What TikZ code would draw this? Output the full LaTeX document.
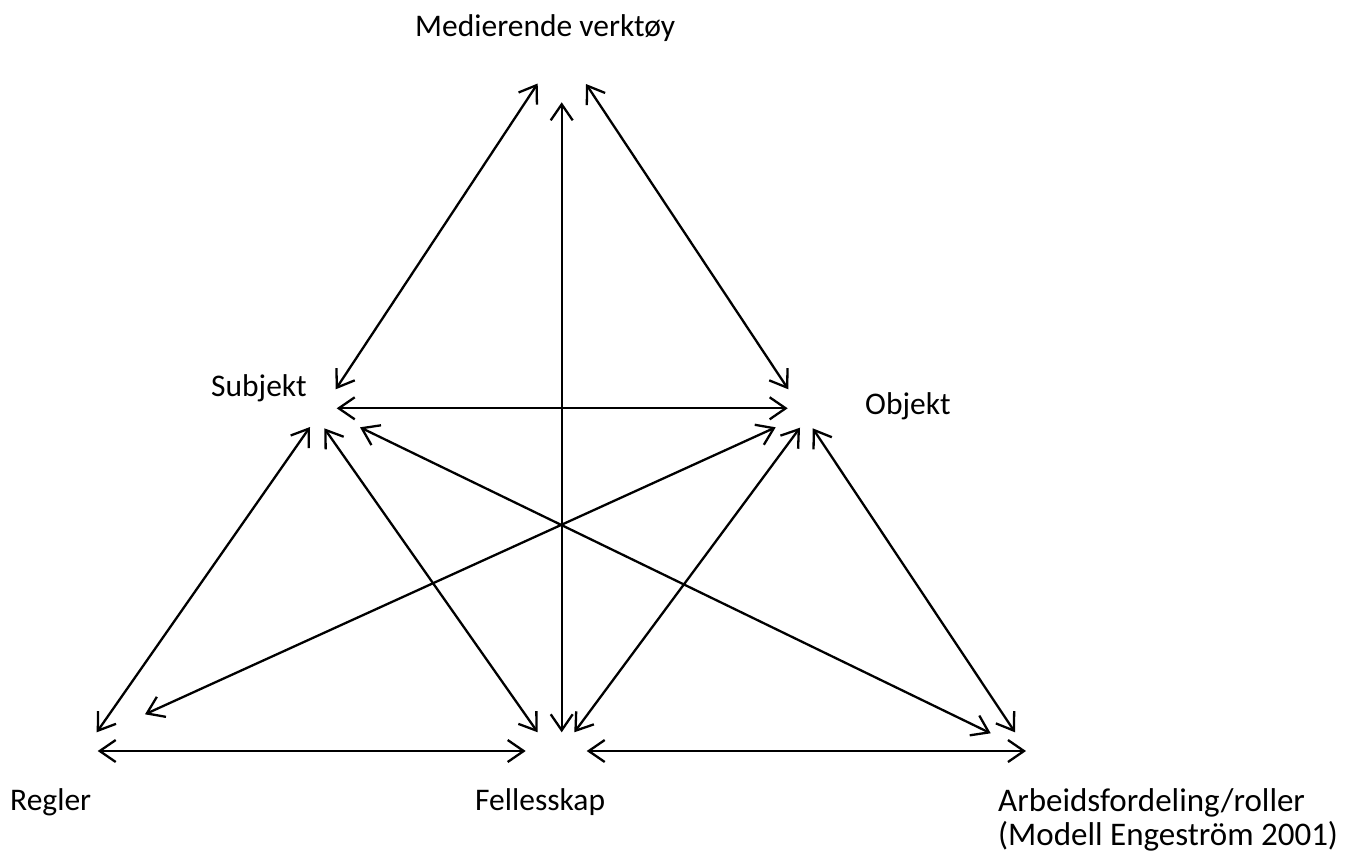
\documentclass[tikz,border=0pt]{standalone}
\usepackage{fontspec}
\setmainfont{Carlito}
\usetikzlibrary{arrows.meta}
\begin{document}
\begin{tikzpicture}[x=1pt,y=-1pt,
  lbl/.style={anchor=base west,inner sep=0pt,font=\fontsize{31.5}{34}\selectfont},
  biglbl/.style={lbl,font=\fontsize{33}{34}\selectfont},
  link/.style={line width=2.3pt,{Straight Barb[length=16pt,width=22pt,line width=2.3pt]}-{Straight Barb[length=16pt,width=22pt,line width=2.3pt]}}]
\useasboundingbox (0,0) rectangle (1346,854);
% labels
\node[lbl] (med) at (415,36) {Medierende verktøy};
\node[lbl] (sub) at (211,396) {Subjekt};
\node[lbl] (obj) at (865,414) {Objekt};
\node[lbl] (reg) at (10,810) {Regler};
\node[lbl] (fel) at (475,810) {Fellesskap};
\node[biglbl] (arb) at (998,811) {Arbeidsfordeling/roller};
\node[biglbl] (mod) at (998,845) {(Modell Engeström 2001)};
% arrow end points
\coordinate (mL) at (537.7,83.5);
\coordinate (mC) at (561.7,102.3);
\coordinate (mR) at (586,84);
\coordinate (sT) at (335.7,389.3);
\coordinate (sH) at (336.7,408.3);
\coordinate (sR) at (310,427);
\coordinate (sF) at (324.3,428.3);
\coordinate (sA) at (360,427.3);
\coordinate (oT) at (788.3,389.3);
\coordinate (oH) at (787.7,408.3);
\coordinate (oR) at (775.7,427.3);
\coordinate (oF) at (800,427.7);
\coordinate (oA) at (812.7,428.3);
\coordinate (rS) at (96.7,732.3);
\coordinate (rO) at (145,714.3);
\coordinate (rH) at (97.7,751);
\coordinate (fS) at (537.7,732.3);
\coordinate (fC) at (561.7,732.3);
\coordinate (fO) at (574.3,732.3);
\coordinate (fHL) at (525.7,751);
\coordinate (fHR) at (586.7,751);
\coordinate (aS) at (990.7,733.3);
\coordinate (aO) at (1015,732.3);
\coordinate (aH) at (1026,751);
% connectors
\draw[link] (sT) -- (mL);
\draw[link] (oT) -- (mR);
\draw[link] (mC) -- (fC);
\draw[link] (sH) -- (oH);
\draw[link] (rS) -- (sR);
\draw[link] (fS) -- (sF);
\draw[link] (aS) -- (sA);
\draw[link] (rO) -- (oR);
\draw[link] (fO) -- (oF);
\draw[link] (aO) -- (oA);
\draw[link] (rH) -- (fHL);
\draw[link] (fHR) -- (aH);
\end{tikzpicture}
\end{document}
